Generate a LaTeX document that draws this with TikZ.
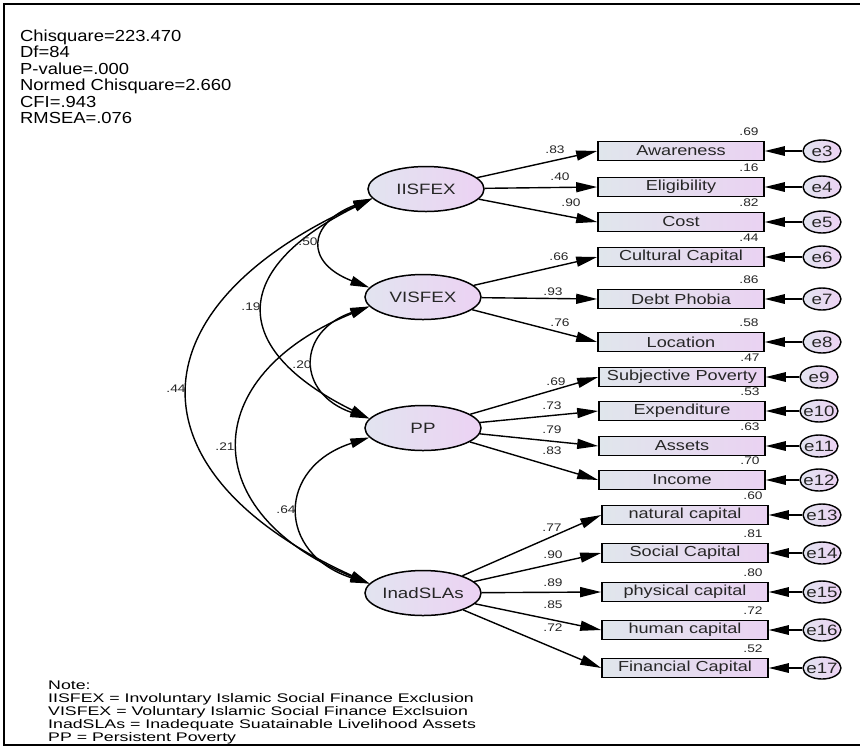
\documentclass[tikz,border=0pt]{standalone}
\usepackage{fontspec}
\setmainfont{Liberation Sans}[FakeStretch=1.25]
\newfontfamily\notefont{Liberation Sans}[FakeStretch=1.42]
\newfontfamily\statfont{Liberation Sans}[FakeStretch=1.15]
\usetikzlibrary{arrows.meta,shapes.geometric}
\definecolor{latL}{HTML}{E2E4F0}
\definecolor{latR}{HTML}{ECD2F3}
\definecolor{boxL}{HTML}{E0E6EC}
\definecolor{boxR}{HTML}{EAD2F2}
\definecolor{txt}{HTML}{262626}
\begin{document}
\begin{tikzpicture}[x=1pt,y=-1pt,
  every node/.style={text=txt},
  latent/.style={ellipse, draw, line width=1.5pt, minimum width=116pt, minimum height=45pt,
    inner xsep=-8pt, inner ysep=0pt, left color=latL, right color=latR,
    font=\fontsize{15}{17}\selectfont},
  obs/.style={rectangle, draw, line width=1.6pt, minimum width=166pt, minimum height=19pt,
    inner xsep=1pt, inner ysep=0pt, left color=boxL, right color=boxR,
    font=\fontsize{14.5}{16}\selectfont},
  err/.style={ellipse, draw, line width=1.4pt, minimum width=38pt, minimum height=22pt,
    inner xsep=-8pt, inner ysep=0pt, left color=latL, right color=latR,
    font=\fontsize{15}{17}\selectfont},
  lab/.style={font=\fontsize{11}{13}\selectfont, inner sep=0pt},
  stat/.style={font=\statfont\fontsize{16}{17}\selectfont, anchor=base west, inner sep=0pt, text=black},
  note/.style={font=\notefont\fontsize{12.5}{14}\selectfont, anchor=base west, inner sep=0pt, text=black},
  load/.style={line width=1.4pt, -{Triangle[length=21pt,width=10pt]}},
  errarr/.style={line width=1.4pt, -{Triangle[length=20pt,width=9.5pt]}},
  cov/.style={line width=1.4pt, {Triangle[length=19pt,width=9.5pt]}-{Triangle[length=19pt,width=9.5pt]}}
]
\useasboundingbox[fill=white] (0,0) rectangle (860,748);
\draw[line width=2pt] (860,3.5) -- (3.5,3.5) -- (3.5,745) -- (860,745);

% fit statistics
\node[stat] (s1) at (20,41) {Chisquare=223.470};
\node[stat] (s2) at (20,57.5) {Df=84};
\node[stat] (s3) at (20,74) {P-value=.000};
\node[stat] (s4) at (20,90.5) {Normed Chisquare=2.660};
\node[stat] (s5) at (20,107) {CFI=.943};
\node[stat] (s6) at (20,123.5) {RMSEA=.076};

% latent variables
\node[latent] (IISFEX) at (426,189) {IISFEX};
\node[latent] (VISFEX) at (423,297) {VISFEX};
\node[latent] (PP) at (423,428) {PP};
\node[latent] (Inad) at (423,593) {InadSLAs};

% observed variables with errors and R2
\foreach \n/\y/\t/\r/\x/\ex in {
  3/151/Awareness/.69/681/822,
  4/187/Eligibility/.16/681/822,
  5/222/Cost/.82/681/822,
  6/257/Cultural Capital/.44/681/822,
  7/299/Debt Phobia/.86/681/822,
  8/342/Location/.58/681/822,
  9/377/Subjective Poverty/.47/682/819,
  10/411/Expenditure/.53/682/819,
  11/446/Assets/.63/682/819,
  12/480/Income/.70/682/819,
  13/515/natural capital/.60/685/822,
  14/553/Social Capital/.81/685/822,
  15/592/physical capital/.80/685/822,
  16/630/human capital/.72/685/822,
  17/668/Financial Capital/.52/685/822}{
  \node[obs] (o\n) at (\x,\y) {\t};
  \node[err] (e\n) at (\ex,\y) {e\n};
  \draw[errarr] (e\n) -- (o\n);
  \node[lab, anchor=east] (r\n) at ([xshift=-6pt,yshift=9pt]o\n.north east) {\r};
}

% loadings
\draw[load] (IISFEX) -- (o3.west);
\draw[load] (IISFEX) -- (o4.west);
\draw[load] (IISFEX) -- (o5.west);
\draw[load] (VISFEX) -- (o6.west);
\draw[load] (VISFEX) -- (o7.west);
\draw[load] (VISFEX) -- (o8.west);
\draw[load] (PP) -- (o9.west);
\draw[load] (PP) -- (o10.west);
\draw[load] (PP) -- (o11.west);
\draw[load] (PP) -- (o12.west);
\draw[load] (Inad) -- (o13.west);
\draw[load] (Inad) -- (o14.west);
\draw[load] (Inad) -- (o15.west);
\draw[load] (Inad) -- (o16.west);
\draw[load] (Inad) -- (o17.west);

\node[lab] (l3) at (555,150) {.83};
\node[lab] (l4) at (560,177) {.40};
\node[lab] (l5) at (571,203) {.90};
\node[lab] (l6) at (559,257) {.66};
\node[lab] (l7) at (553,292) {.93};
\node[lab] (l8) at (560,323) {.76};
\node[lab] (l9) at (556,382) {.69};
\node[lab] (l10) at (552,406) {.73};
\node[lab] (l11) at (552,430) {.79};
\node[lab] (l12) at (552,451) {.83};
\node[lab] (l13) at (552,528) {.77};
\node[lab] (l14) at (553,555) {.90};
\node[lab] (l15) at (553,583) {.89};
\node[lab] (l16) at (553,605) {.85};
\node[lab] (l17) at (553,628) {.72};

% covariances
\draw[cov] (IISFEX.190) .. controls +(-65,25) and +(-65,-25) .. (VISFEX.170);
\draw[cov] (IISFEX.190) .. controls +(-142,70) and +(-142,-70) .. (PP.170);
\draw[cov] (IISFEX.190) .. controls +(-242,110) and +(-242,-110) .. (Inad.170);
\draw[cov] (VISFEX.190) .. controls +(-73,25) and +(-73,-25) .. (PP.170);
\draw[cov] (VISFEX.190) .. controls +(-173,70) and +(-173,-70) .. (Inad.170);
\draw[cov] (PP.190) .. controls +(-93,30) and +(-93,-30) .. (Inad.170);

\node[lab] (c1) at (308,242) {.50};
\node[lab] (c2) at (251,307) {.19};
\node[lab] (c3) at (176,389) {.44};
\node[lab] (c4) at (302,365) {.20};
\node[lab] (c5) at (225,447) {.21};
\node[lab] (c6) at (286,510) {.64};

% note
\node[note] (n1) at (48,689) {Note:};
\node[note] (n2) at (48,702) {IISFEX = Involuntary Islamic Social Finance Exclusion};
\node[note] (n3) at (48,715) {VISFEX = Voluntary Islamic Social Finance Exclsuion};
\node[note] (n4) at (48,728) {InadSLAs = Inadequate Suatainable Livelihood Assets};
\node[note] (n5) at (48,741) {PP = Persistent Poverty};
\end{tikzpicture}
\end{document}
